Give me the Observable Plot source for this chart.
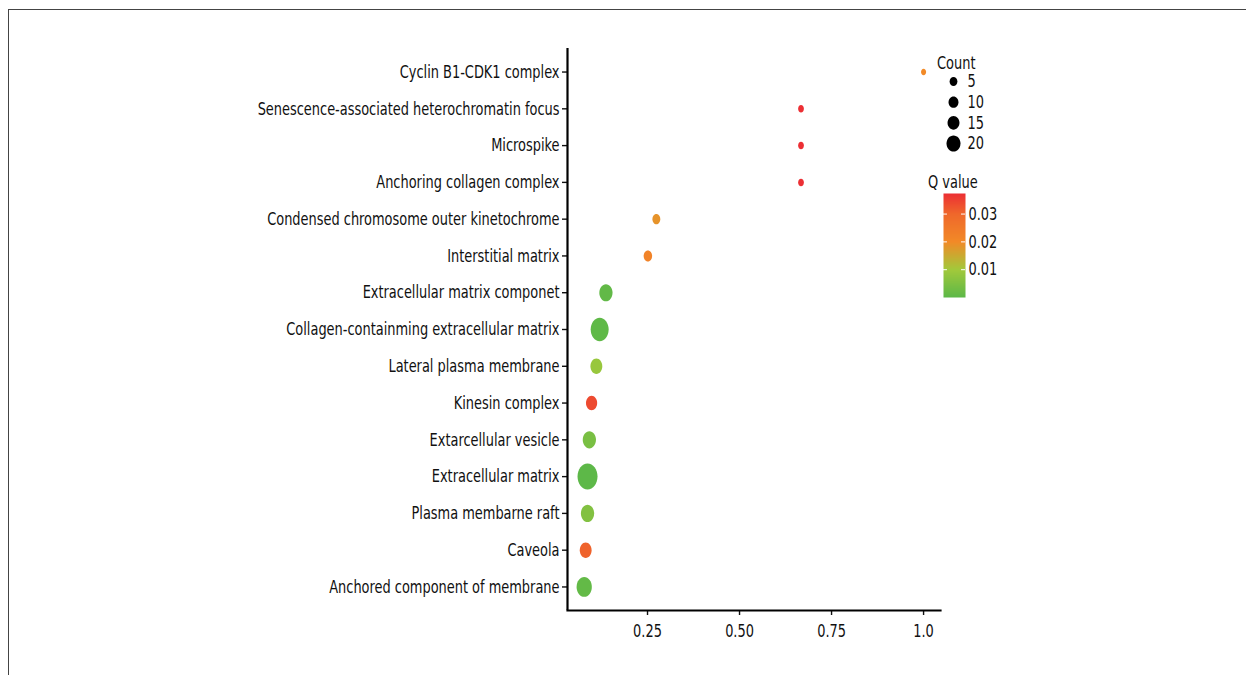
<!DOCTYPE html>
<html>
<head>
<meta charset="utf-8">
<script src="https://cdn.jsdelivr.net/npm/d3@7"></script>
<script src="https://cdn.jsdelivr.net/npm/@observablehq/plot@0.6"></script>
<style>
  html, body { margin: 0; padding: 0; background: #fff; }
  #wrap { position: relative; width: 1246px; height: 675px; overflow: hidden; background: #fff;
          font-family: "DejaVu Sans Condensed", "Liberation Sans Narrow", sans-serif; color: #111; }
  #border { position: absolute; left: 8px; top: 9px; right: -2px; bottom: -2px; border-top: 1px solid #444; border-left: 1px solid #444; }
  .abs { position: absolute; left: 0; top: 0; }
  .ttl { position: absolute; font-size: 18px; line-height: 1; white-space: nowrap; transform: scaleX(0.8); transform-origin: 0 0; }
</style>
</head>
<body>
<div id="wrap">
  <div id="border"></div>
  <div id="main" class="abs"></div>
  <div id="countLegend" class="abs" style="left:920px; top:50px;"></div>
  <div class="ttl" style="left:937px; top:54px;">Count</div>
  <div id="qLegend" class="abs" style="left:920px; top:170px;"></div>
  <div class="ttl" style="left:928px; top:173px;">Q value</div>
</div>
<script>
// ---- data ----
const categories = [
  "Cyclin B1-CDK1 complex",
  "Senescence-associated heterochromatin focus",
  "Microspike",
  "Anchoring collagen complex",
  "Condensed chromosome outer kinetochrome",
  "Interstitial matrix",
  "Extracellular matrix componet",
  "Collagen-containming extracellular matrix",
  "Lateral plasma membrane",
  "Kinesin complex",
  "Extarcellular vesicle",
  "Extracellular matrix",
  "Plasma membarne raft",
  "Caveola",
  "Anchored component of membrane"
];
const geneRatio = [1.0, 0.667, 0.667, 0.667, 0.274, 0.251, 0.137, 0.120, 0.111, 0.098, 0.092, 0.087, 0.087, 0.082, 0.078];
const counts    = [1, 2, 2, 2, 5, 6, 13, 20, 11, 10, 13, 23, 13, 11, 16];
const qValues   = [0.020, 0.0374, 0.0374, 0.0374, 0.0185, 0.022, 0.0008, 0.0004, 0.0086, 0.0339, 0.0042, 0.0001, 0.0054, 0.0307, 0.001];

const xTicks = [0.25, 0.50, 0.75, 1.0];
const xTickLabels = ["0.25", "0.50", "0.75", "1.0"];
const legendCounts = [5, 10, 15, 20];
const qTicks = [0.01, 0.02, 0.03];
const qTickLabels = ["0.01", "0.02", "0.03"];
const qStops  = [0, 0.01, 0.02, 0.03, 0.0374];
const qColors = ["#5cb848", "#a2c93b", "#f28a27", "#ef682b", "#ec2f34"];

const data = categories.map((c, i) => ({term: c, ratio: geneRatio[i], count: counts[i], q: qValues[i]}));

// ellipse symbol (dots in the reference are slightly taller than wide)
function ellipseSymbol(aspect) {
  return {
    draw(ctx, size) {
      const r = Math.sqrt(size / Math.PI);
      const s = Math.sqrt(aspect);
      const a = r / s, b = r * s, k = 0.5523;
      ctx.moveTo(a, 0);
      ctx.bezierCurveTo(a, b * k, a * k, b, 0, b);
      ctx.bezierCurveTo(-a * k, b, -a, b * k, -a, 0);
      ctx.bezierCurveTo(-a, -b * k, -a * k, -b, 0, -b);
      ctx.bezierCurveTo(a * k, -b, a, -b * k, a, 0);
      ctx.closePath();
    }
  };
}

// narrow the (condensed) font further, scaling each text about its anchor
function condense(svg, k) {
  svg.querySelectorAll("text").forEach((t) => {
    const tr = t.getAttribute("transform") || "";
    const x = +(t.getAttribute("x") || 0);
    t.setAttribute("transform", `${tr} translate(${x},0) scale(${k},1) translate(${-x},0)`);
  });
}

const font = '"DejaVu Sans Condensed", "Liberation Sans Narrow", sans-serif';
const FS = 18, K = 0.8;
const colorScale = {type: "linear", domain: qStops, range: qColors, interpolate: "rgb"};
const xMin = 0.0326, xMax = 1.046;

const main = Plot.plot({
  width: 1246, height: 675,
  marginLeft: 567, marginRight: 306, marginTop: 48, marginBottom: 65,
  style: {fontFamily: font, fontSize: FS + "px", color: "#111", background: "transparent", overflow: "visible"},
  x: {domain: [xMin, xMax]},
  y: {type: "point", domain: categories, padding: 0.64, round: false},
  r: {type: "linear", domain: [1, 23], range: [2.9, 11.4]},
  color: colorScale,
  marks: [
    Plot.axisX({ticks: xTicks, tickFormat: (d) => xTickLabels[xTicks.indexOf(d)], tickSize: 5, tickPadding: 9, strokeWidth: 1.4, label: null, fontSize: FS, fill: "#111"}),
    Plot.axisY({tickSize: 5, tickPadding: 3, strokeWidth: 1.4, label: null, fontSize: FS, fill: "#111"}),
    Plot.ruleX([xMin], {stroke: "#000", strokeWidth: 2.2}),
    Plot.frame({anchor: "bottom", stroke: "#000", strokeWidth: 2.2}),
    Plot.dot(data, {x: "ratio", y: "term", r: "count", fill: "q", symbol: ellipseSymbol(1.3), stroke: "none"})
  ]
});
condense(main, K);
document.getElementById("main").appendChild(main);

// Count legend
const countLeg = Plot.plot({
  width: 80, height: 110, margin: 0,
  style: {fontFamily: font, fontSize: FS + "px", color: "#111", background: "transparent", overflow: "visible"},
  x: {domain: [0, 1], range: [33, 47], axis: null},
  y: {type: "point", domain: legendCounts, range: [31, 93], padding: 0, round: false, axis: null},
  r: {type: "linear", domain: [5, 20], range: [4.2, 7.5]},
  marks: [
    Plot.dot(legendCounts, {x: () => 0, y: (d) => d, r: (d) => d, fill: "#000", symbol: ellipseSymbol(1.15)}),
    Plot.text(legendCounts, {x: () => 1, y: (d) => d, text: (d) => String(d), textAnchor: "start", fontSize: FS, fill: "#111"})
  ]
});
condense(countLeg, K);
document.getElementById("countLegend").appendChild(countLeg);

// Q value colour bar
const qMin = 0, qMax = 0.0374;
const qLeg = Plot.plot({
  width: 80, height: 140, margin: 0,
  style: {fontFamily: font, fontSize: FS + "px", color: "#111", background: "transparent", overflow: "visible"},
  x: {domain: [0, 1], range: [23, 45], axis: null},
  y: {domain: [qMin, qMax], range: [127, 23], axis: null},
  color: colorScale,
  marks: [
    Plot.raster({x1: 0, x2: 1, y1: qMin, y2: qMax, width: 1, height: 104, fill: (x, y) => y, imageRendering: "auto"}),
    Plot.ruleY(qTicks, {y: (d) => d, x1: 0, x2: 0.18, stroke: "#fff", strokeWidth: 1}),
    Plot.ruleY(qTicks, {y: (d) => d, x1: 0.82, x2: 1, stroke: "#fff", strokeWidth: 1}),
    Plot.text(qTicks, {x: () => 1, y: (d) => d, text: (d) => qTickLabels[qTicks.indexOf(d)], textAnchor: "start", dx: 3, fontSize: FS, fill: "#111"})
  ]
});
condense(qLeg, K);
document.getElementById("qLegend").appendChild(qLeg);
</script>
</body>
</html>
